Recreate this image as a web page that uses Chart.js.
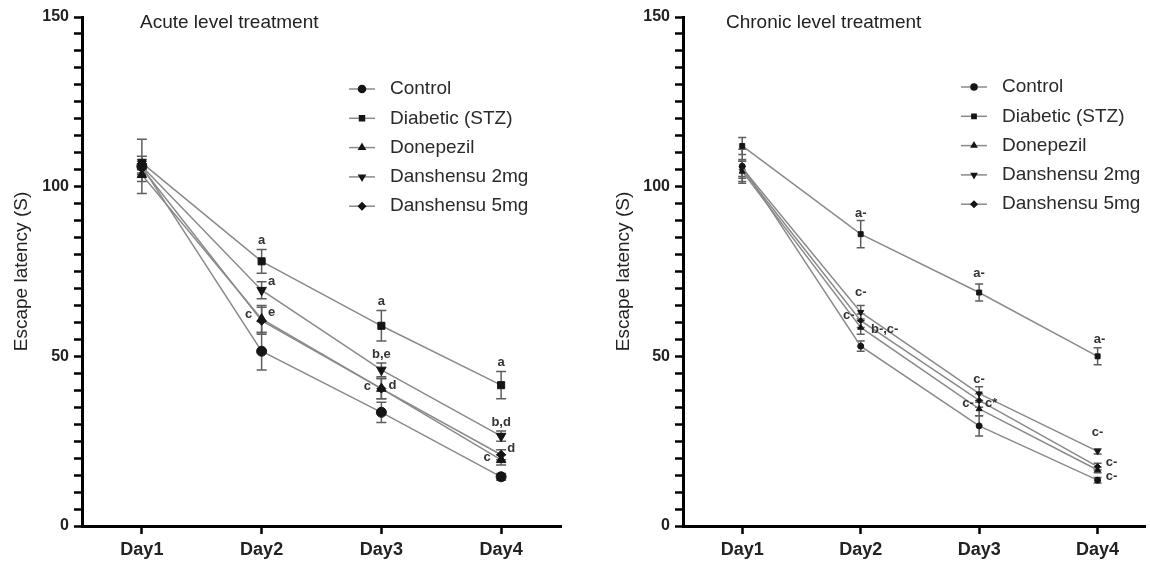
<!DOCTYPE html>
<html>
<head>
<meta charset="utf-8">
<script src="https://cdn.jsdelivr.net/npm/chart.js@4.4.1/dist/chart.umd.min.js"></script>
<style>
html, body { margin: 0; padding: 0; background: #fff; }
#wrap { position: relative; width: 1150px; height: 561px; overflow: hidden; }
.panel { position: absolute; top: 0; width: 575px; height: 561px; }
</style>
</head>
<body>
<div id="wrap">
    <div class="panel" style="left:0"><canvas id="acute-chart" width="575" height="561"></canvas></div>
    <div class="panel" style="left:575px"><canvas id="chronic-chart" width="575" height="561"></canvas></div>
</div>
<script>
var days = ['Day1', 'Day2', 'Day3', 'Day4'];
var groups = ['Control', 'Diabetic (STZ)', 'Donepezil', 'Danshensu 2mg', 'Danshensu 5mg'];
var yLabels = [0, 50, 100, 150];

// Acute level treatment - escape latency (s), mean and error
var acuteControl   = [106, 51.5, 33.5, 14.5];
var acuteDiabetic  = [107, 78, 59, 41.5];
var acuteDonepezil = [103.5, 61, 40.5, 19.5];
var acuteDan2      = [106, 69.5, 46, 26.5];
var acuteDan5      = [105.5, 60.5, 40.5, 21];

var acuteControlErr   = [8, 5.5, 3, 1];
var acuteDiabeticErr  = [2, 3.5, 4.5, 4];
var acuteDonepezilErr = [2, 4, 3, 1.5];
var acuteDan2Err      = [2, 2.5, 2, 1.5];
var acuteDan5Err      = [2, 4, 3, 1.5];

// Chronic level treatment
var chronicControl   = [106, 53, 29.5, 13.5];
var chronicDiabetic  = [112, 86, 68.8, 50];
var chronicDonepezil = [104.5, 58.5, 34.5, 16.5];
var chronicDan2      = [105.5, 63, 39, 22];
var chronicDan5      = [105, 60.5, 37, 17.5];

var chronicControlErr   = [5, 1.5, 3, 0.8];
var chronicDiabeticErr  = [2.5, 4, 2.5, 2.5];
var chronicDonepezilErr = [3, 2, 2, 0.8];
var chronicDan2Err      = [2.5, 2, 2, 0.8];
var chronicDan5Err      = [2.5, 2, 2, 1];

// significance letters: [text, group index, day index]
var acuteNotes = [
    ['a', 1, 1], ['a', 3, 1], ['c', 2, 1], ['e', 2, 1],
    ['a', 1, 2], ['b,e', 3, 2], ['c', 2, 2], ['d', 2, 2],
    ['a', 1, 3], ['b,d', 3, 3], ['d', 4, 3], ['c', 2, 3]
];
var chronicNotes = [
    ['a-', 1, 1], ['c-', 3, 1], ['c-', 4, 1], ['b-,c-', 2, 1],
    ['a-', 1, 2], ['c-', 3, 2], ['c-', 4, 2], ['c*', 4, 2],
    ['a-', 1, 3], ['c-', 3, 3], ['c-', 4, 3], ['c-', 0, 3]
];
// pixel offsets of the letters from their point
var acuteNoteOffsets = [
    [0, -21], [10, -9], [-13, -5], [10, -7],
    [0, -24], [0, -15], [-14, -2], [11, -3],
    [0, -23], [0, -14], [10, -6], [-14, -2]
];
var chronicNoteOffsets = [
    [0, -21], [0, -20], [-12, -5], [24, 2],
    [0, -19], [0, -14], [-11, 3], [12, 3],
    [2, -17], [0, -19], [14, -4], [14, -4]
];

var pointStyles = ['circle', 'rect', 'triangle', 'triangle', 'rectRot'];
var pointRotations = [0, 0, 0, 180, 0];

var FONT = "'Liberation Sans', Arial, sans-serif";
var LINE_COLOR = '#8a8a8a';
var MARK_COLOR = '#151515';

var errorBarPlugin = {
    id: 'errorBars',
    beforeDatasetsDraw: function(chart) {
        var ctx = chart.ctx;
        var ys = chart.scales.y;
        var cap = chart.options.plugins.errorBars.cap;
        ctx.save();
        ctx.strokeStyle = '#5e5e5e';
        ctx.lineWidth = 1.5;
        chart.data.datasets.forEach(function(ds, di) {
            var meta = chart.getDatasetMeta(di);
            meta.data.forEach(function(pt, i) {
                var v = ds.data[i].y, e = ds.errors[i];
                var top = ys.getPixelForValue(v + e), bot = ys.getPixelForValue(v - e);
                ctx.beginPath();
                ctx.moveTo(pt.x, top); ctx.lineTo(pt.x, bot);
                ctx.moveTo(pt.x - cap, top); ctx.lineTo(pt.x + cap, top);
                ctx.moveTo(pt.x - cap, bot); ctx.lineTo(pt.x + cap, bot);
                ctx.stroke();
            });
        });
        ctx.restore();
    }
};

var decorPlugin = {
    id: 'decor',
    afterDatasetsDraw: function(chart) {
        var o = chart.options.plugins.decor;
        var ctx = chart.ctx;
        ctx.save();

        // panel title
        ctx.fillStyle = '#222';
        ctx.font = '19px ' + FONT;
        ctx.textAlign = 'left';
        ctx.textBaseline = 'middle';
        ctx.fillText(o.title, o.titleX, o.titleY);

        // legend
        chart.data.datasets.forEach(function(ds, i) {
            var y = o.legendY + i * o.legendStep;
            ctx.strokeStyle = LINE_COLOR;
            ctx.lineWidth = 1.5;
            ctx.beginPath();
            ctx.moveTo(o.legendX - 13, y); ctx.lineTo(o.legendX + 13, y);
            ctx.stroke();
            ctx.fillStyle = MARK_COLOR;
            ctx.strokeStyle = MARK_COLOR;
            Chart.helpers.drawPoint(ctx, {
                pointStyle: pointStyles[i], rotation: pointRotations[i],
                radius: o.legendRadius, borderWidth: 1
            }, o.legendX, y);
            ctx.fillStyle = '#2a2a2a';
            ctx.font = '19px ' + FONT;
            ctx.textAlign = 'left';
            ctx.fillText(ds.label, o.legendX + 28, y);
        });

        // significance letters
        ctx.fillStyle = '#333';
        ctx.font = 'bold 13px ' + FONT;
        ctx.textAlign = 'center';
        o.notes.forEach(function(n, k) {
            var pt = chart.getDatasetMeta(n[1]).data[n[2]];
            var off = o.noteOffsets[k];
            ctx.fillText(n[0], pt.x + off[0], pt.y + off[1]);
        });
        ctx.restore();
    }
};

function makePanel(canvasId, values, errors, opts) {
    var datasets = groups.map(function(g, i) {
        return {
            label: g,
            data: values[i].map(function(v, d) { return { x: d + 1, y: v }; }),
            errors: errors[i],
            borderColor: LINE_COLOR,
            borderWidth: 1.5,
            pointStyle: pointStyles[i],
            pointRotation: pointRotations[i],
            pointRadius: opts.radius[i],
            pointBackgroundColor: MARK_COLOR,
            pointBorderColor: MARK_COLOR,
            pointBorderWidth: 1,
            tension: 0,
            fill: false
        };
    });

    return new Chart(document.getElementById(canvasId).getContext('2d'), {
        type: 'line',
        data: { datasets: datasets },
        options: {
            responsive: false,
            animation: false,
            events: [],
            layout: { padding: { left: opts.padLeft, right: opts.padRight, top: 17, bottom: 0 } },
            plugins: {
                legend: { display: false },
                tooltip: { enabled: false },
                errorBars: { cap: opts.cap },
                decor: {
                    title: opts.title, titleX: opts.titleX, titleY: 23,
                    legendX: opts.legendX, legendY: opts.legendY, legendStep: 29.3,
                    legendRadius: opts.legendRadius,
                    notes: opts.notes, noteOffsets: opts.noteOffsets
                }
            },
            scales: {
                x: {
                    type: 'linear',
                    min: 0.5,
                    max: opts.xMax,
                    afterBuildTicks: function(scale) {
                        scale.ticks = days.map(function(d, i) { return { value: i + 1 }; });
                    },
                    afterFit: function(scale) { scale.height = 35; },
                    grid: { drawOnChartArea: false, drawTicks: true, tickLength: 8, tickWidth: 2.5, tickColor: '#000' },
                    border: { display: true, color: '#000', width: 3 },
                    ticks: {
                        padding: 5,
                        color: '#222',
                        font: { family: FONT, size: 18, weight: 'bold' },
                        callback: function(v) { return days[v - 1] || ''; }
                    }
                },
                y: {
                    min: 0,
                    max: 150,
                    afterFit: function(scale) { scale.width = opts.yWidth; },
                    grid: { drawOnChartArea: false, drawTicks: true, tickLength: 8, tickWidth: 2.5, tickColor: '#000' },
                    border: { display: true, color: '#000', width: 3 },
                    ticks: {
                        stepSize: 5,
                        autoSkip: false,
                        padding: 5,
                        color: '#222',
                        font: { family: FONT, size: 16, weight: 'bold' },
                        callback: function(v) { return yLabels.indexOf(v) >= 0 ? v : ''; }
                    },
                    title: {
                        display: true,
                        text: 'Escape latency (S)',
                        color: '#222',
                        font: { family: FONT, size: 19 },
                        padding: { top: 4, bottom: 4 }
                    }
                }
            }
        },
        plugins: [errorBarPlugin, decorPlugin]
    });
}

makePanel('acute-chart',
    [acuteControl, acuteDiabetic, acuteDonepezil, acuteDan2, acuteDan5],
    [acuteControlErr, acuteDiabeticErr, acuteDonepezilErr, acuteDan2Err, acuteDan5Err],
    {
        title: 'Acute level treatment', titleX: 140,
        padLeft: 6, padRight: 14, yWidth: 76, xMax: 4.5,
        radius: [5, 5, 5.5, 5.5, 4.5], cap: 5,
        legendX: 362, legendY: 89, legendRadius: 3.5,
        notes: acuteNotes, noteOffsets: acuteNoteOffsets
    });

makePanel('chronic-chart',
    [chronicControl, chronicDiabetic, chronicDonepezil, chronicDan2, chronicDan5],
    [chronicControlErr, chronicDiabeticErr, chronicDonepezilErr, chronicDan2Err, chronicDan5Err],
    {
        title: 'Chronic level treatment', titleX: 151,
        padLeft: 33, padRight: 0, yWidth: 75, xMax: 4.4,
        radius: [3, 3.5, 3.5, 3.5, 3], cap: 4,
        legendX: 399, legendY: 87, legendRadius: 3,
        notes: chronicNotes, noteOffsets: chronicNoteOffsets
    });
</script>
</body>
</html>
